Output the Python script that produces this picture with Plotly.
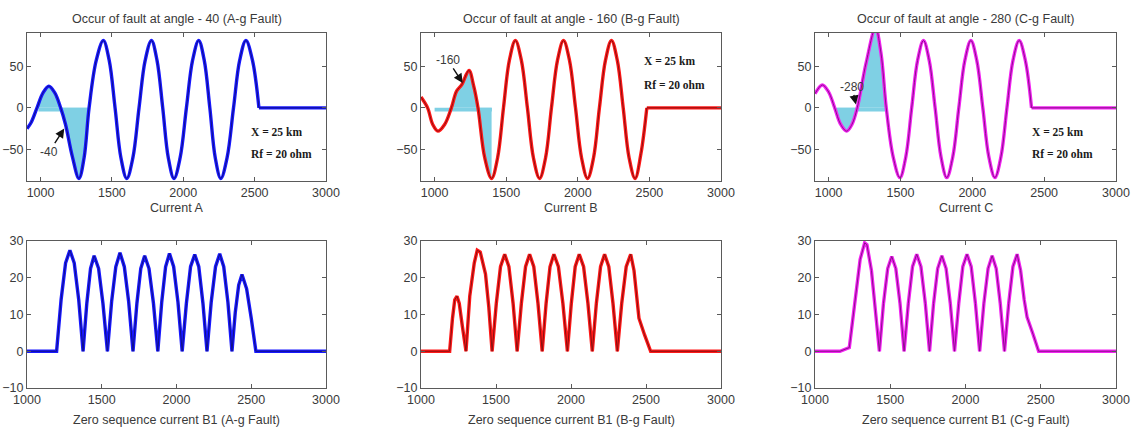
import plotly.graph_objects as go

# ---------------- data ----------------
PHASES = ["A", "B", "C"]
FAULT_ANGLES = [40, 160, 280]

# Phase currents (top row): peaks, zero crossings, mid-slope points and the fault kink
CUR_A_X = [905, 933, 975, 1017, 1058, 1100, 1141, 1175, 1222, 1269, 1305, 1340, 1390,
           1440, 1481, 1522, 1563, 1604, 1647, 1690, 1733, 1777, 1816, 1856, 1895,
           1935, 1978, 2022, 2065, 2108, 2147, 2186, 2224, 2263, 2307, 2352, 2395,
           2439, 2485, 2530, 3000]
CUR_A_Y = [-25, -18, 0, 18, 26, 18, 0, -20, -58, -85, -60, 0, 57,
           81, 57, 0, -60, -85, -60, 0, 57, 81, 57, 0, -60,
           -85, -60, 0, 57, 81, 57, 0, -60, -85, -60, 0, 57,
           81, 57, 0, 0]

CUR_B_X = [905, 951, 987, 1023, 1070, 1117, 1153, 1190, 1240, 1272, 1303, 1350, 1398,
           1440, 1481, 1522, 1564, 1606, 1648, 1690, 1733, 1775, 1816, 1858, 1900,
           1942, 1984, 2026, 2068, 2110, 2151, 2193, 2235, 2276, 2317, 2358, 2400,
           2441, 2482, 3000]
CUR_B_Y = [13, 0, -20, -28, -20, 0, 20, 28, 45, 27, 0, -60, -85,
           -60, 0, 57, 81, 57, 0, -60, -85, -60, 0, 57, 81,
           57, 0, -60, -85, -60, 0, 57, 81, 57, 0, -60, -85,
           -55, 0, 0]

CUR_C_X = [905, 956, 1000, 1042, 1084, 1125, 1162, 1199, 1262, 1326, 1364, 1401, 1449,
           1496, 1537, 1578, 1619, 1660, 1700, 1741, 1782, 1822, 1864, 1906, 1948,
           1990, 2031, 2073, 2115, 2157, 2199, 2241, 2283, 2326, 2369, 2412, 3000]
CUR_C_Y = [17, 27.5, 19, 0, -20, -28, -20, 0, 55, 96, 66, 0, -59,
           -84, -59, 0, 57, 81, 57, 0, -59, -84, -59, 0, 57,
           81, 57, 0, -59, -84, -59, 0, 57, 81, 57, 0, 0]

# Shaded first cycle after the fault: (start, end) of the area and of the strip under zero
SHADE_A = (975, 1340)
SHADE_B = (1117, 1398)
SHADE_C = (1042, 1401)
STRIP_A = (985, 1340)
STRIP_B = (1000, 1400)
STRIP_C = (1060, 1401)

# Zero-sequence currents (bottom row)
ZS_A_X = [1000, 1198,
          1228, 1258, 1287, 1316, 1346, 1375,
          1400, 1425, 1449, 1479, 1508, 1538,
          1566, 1594, 1622, 1651, 1680, 1709,
          1735, 1761, 1787, 1816, 1846, 1875,
          1901, 1927, 1953, 1981, 2010, 2038,
          2066, 2094, 2122, 2149, 2177, 2204,
          2232, 2261, 2289, 2316, 2344, 2371,
          2393, 2416, 2438, 2469, 2500, 2531, 3000]
ZS_A_Y = [0, 0,
          14, 24, 27.5, 24, 14, 0,
          13, 22.5, 26, 22.5, 13, 0,
          13.5, 23, 26.8, 23, 13.5, 0,
          13, 22.5, 26, 22.5, 13, 0,
          13.3, 23, 26.6, 23, 13.3, 0,
          13, 23, 26.3, 23, 13, 0,
          13.3, 23, 26.5, 23, 13.3, 0,
          10.5, 18, 20.9, 17, 9, 0, 0]

ZS_B_X = [1000, 1191,
          1210, 1225, 1240, 1255, 1275, 1300,
          1325, 1355, 1375, 1395, 1430, 1452, 1474,
          1502, 1530, 1558, 1586, 1614, 1641,
          1669, 1697, 1724, 1752, 1780, 1808,
          1834, 1860, 1886, 1916, 1946, 1976,
          2002, 2028, 2055, 2084, 2113, 2142,
          2169, 2197, 2224, 2252, 2280, 2309,
          2338, 2368, 2398, 2420, 2440, 2453, 2490, 2531, 3000]
ZS_B_Y = [0, 0,
          9, 14, 15, 13, 7, 0,
          15, 24, 27.5, 27, 21, 12, 0,
          13, 23, 26.4, 23, 13, 0,
          13, 23, 26.4, 23, 13, 0,
          13, 23, 26.4, 23, 13, 0,
          13, 23, 26.4, 23, 13, 0,
          13, 23, 26.4, 23, 13, 0,
          13, 23, 26.4, 22, 14, 9, 4.5, 0, 0]

ZS_C_X = [1000, 1166, 1228,
          1265, 1300, 1330, 1345, 1375, 1400, 1428,
          1455, 1483, 1510, 1537, 1565, 1592,
          1620, 1648, 1676, 1704, 1733, 1761,
          1788, 1815, 1843, 1871, 1899, 1927,
          1955, 1982, 2010, 2038, 2066, 2094,
          2122, 2150, 2177, 2204, 2231, 2259,
          2287, 2315, 2343, 2366, 2390, 2409, 2450, 2486, 3000]
ZS_C_Y = [0, 0, 1,
          14, 25, 29.5, 29, 22, 12, 0,
          13, 22.5, 25.8, 22.5, 13, 0,
          13, 23, 26.4, 23, 13, 0,
          13, 22.5, 26, 22.5, 13, 0,
          13, 23, 26.4, 23, 13, 0,
          13, 22.5, 26, 22.5, 13, 0,
          13, 23, 26.4, 22, 14, 9.3, 4.5, 0, 0]

# Text boxes and angle markers (data coordinates of each panel)
INFO_POS = [(2460, -29, -56), (2448, 56, 28), (2400, -29, -56)]
ANGLE_TIP = [(1166, -25), (1196, 30), (1190, 4)]
ANGLE_OFFSET = [(-15, 23), (-15, -23), (-4, -18)]

# ---------------- style ----------------
LINE = ["#1818ff", "#ff1818", "#f222f2"]
CORE = ["#10108a", "#8a1010", "#8a108a"]
SHADE = "#7fd0e4"
TEXT = "#3a3a3a"
FONT = "Liberation Sans"

X_DOM = [(27 / 1135, 326 / 1135), (421 / 1135, 721 / 1135), (815 / 1135, 1116 / 1135)]
Y_TOP = (1 - 181 / 429, 1 - 33 / 429)
Y_BOT = (1 - 388 / 429, 1 - 241 / 429)

cur_x = [CUR_A_X, CUR_B_X, CUR_C_X]
cur_y = [CUR_A_Y, CUR_B_Y, CUR_C_Y]
zs_x = [ZS_A_X, ZS_B_X, ZS_C_X]
zs_y = [ZS_A_Y, ZS_B_Y, ZS_C_Y]
shades = [SHADE_A, SHADE_B, SHADE_C]
strips = [STRIP_A, STRIP_B, STRIP_C]

fig = go.Figure()
shapes = []
annotations = []

for i, ph in enumerate(PHASES):
    xt, yt = f"x{i + 1}", f"y{i + 1}"
    xb, yb = f"x{i + 4}", f"y{i + 4}"
    cx, cy = cur_x[i], cur_y[i]

    # shaded area between the first post-fault cycle and zero
    lo, hi = shades[i]
    sx = [x for x in cx if lo <= x <= hi]
    sy = [y for x, y in zip(cx, cy) if lo <= x <= hi]
    fig.add_trace(go.Scatter(x=sx, y=sy, mode="lines", line=dict(width=0, shape="spline"),
                             fill="tozeroy", fillcolor=SHADE, xaxis=xt, yaxis=yt,
                             hoverinfo="skip", showlegend=False))
    s0, s1 = strips[i]
    shapes.append(dict(type="rect", xref=xt, yref=yt, x0=s0, x1=s1, y0=-4.5, y1=0,
                       fillcolor=SHADE, line=dict(width=0), layer="below"))

    # phase current: smooth waveform, then the flat tail after the breaker opens
    for color, width in ((LINE[i], 3.4), (CORE[i], 1.0)):
        fig.add_trace(go.Scatter(x=cx[:-1], y=cy[:-1], mode="lines",
                                 line=dict(color=color, width=width, shape="spline"),
                                 xaxis=xt, yaxis=yt, showlegend=False))
        fig.add_trace(go.Scatter(x=cx[-2:], y=cy[-2:], mode="lines",
                                 line=dict(color=color, width=width),
                                 xaxis=xt, yaxis=yt, showlegend=False))
        fig.add_trace(go.Scatter(x=zs_x[i], y=zs_y[i], mode="lines",
                                 line=dict(color=color, width=width),
                                 xaxis=xb, yaxis=yb, showlegend=False))

    # titles and axis captions
    xc = (X_DOM[i][0] + X_DOM[i][1]) / 2
    for txt, py in ((f"Occur of fault at angle - {FAULT_ANGLES[i]} ({ph}-g Fault)", 19),
                    (f"Current {ph}", 208),
                    (f"Zero sequence current B1 ({ph}-g Fault)", 420)):
        annotations.append(dict(text=txt, x=xc, y=1 - py / 429, xref="paper", yref="paper",
                                xanchor="center", yanchor="middle", showarrow=False,
                                font=dict(family=FONT, size=12.5, color=TEXT)))

    # fault location / resistance labels
    ix, iy1, iy2 = INFO_POS[i]
    for txt, yy in (("X = 25 km", iy1), ("Rf = 20 ohm", iy2)):
        annotations.append(dict(text=f"<b>{txt}</b>", x=ix, y=yy, xref=xt, yref=yt,
                                xanchor="left", showarrow=False,
                                font=dict(family="Liberation Serif", size=11.5, color="#1a1a1a")))

    # inception-angle marker
    tx, ty = ANGLE_TIP[i]
    ax, ay = ANGLE_OFFSET[i]
    annotations.append(dict(text=f"-{FAULT_ANGLES[i]}", x=tx, y=ty, xref=xt, yref=yt,
                            ax=ax, ay=ay, showarrow=True, arrowhead=2, arrowsize=1.3,
                            arrowwidth=1.4, arrowcolor="#111111", standoff=0,
                            font=dict(family=FONT, size=12, color=TEXT)))

axis_common = dict(showline=True, linecolor="#5a5a5a", linewidth=1, mirror="ticks",
                   ticks="inside", ticklen=4, tickcolor="#5a5a5a", showgrid=False,
                   zeroline=False, automargin=False,
                   tickfont=dict(family=FONT, size=12.5, color=TEXT))

layout = dict(template="none", width=1135, height=429, margin=dict(l=0, r=0, t=0, b=0),
              paper_bgcolor="white", plot_bgcolor="white",
              shapes=shapes, annotations=annotations, showlegend=False)

for i in range(3):
    layout[f"xaxis{i + 1}"] = dict(axis_common, domain=X_DOM[i], range=[905, 3000],
                                   tickvals=[1000, 1500, 2000, 2500, 3000], anchor=f"y{i + 1}")
    layout[f"yaxis{i + 1}"] = dict(axis_common, domain=Y_TOP, range=[-88, 90],
                                   tickvals=[-50, 0, 50], anchor=f"x{i + 1}")
    layout[f"xaxis{i + 4}"] = dict(axis_common, domain=X_DOM[i], range=[1000, 3000],
                                   tickvals=[1000, 1500, 2000, 2500, 3000], anchor=f"y{i + 4}")
    layout[f"yaxis{i + 4}"] = dict(axis_common, domain=Y_BOT, range=[-10, 30],
                                   tickvals=[-10, 0, 10, 20, 30], anchor=f"x{i + 4}")

fig.update_layout(**layout)
fig.write_html("out.html")
